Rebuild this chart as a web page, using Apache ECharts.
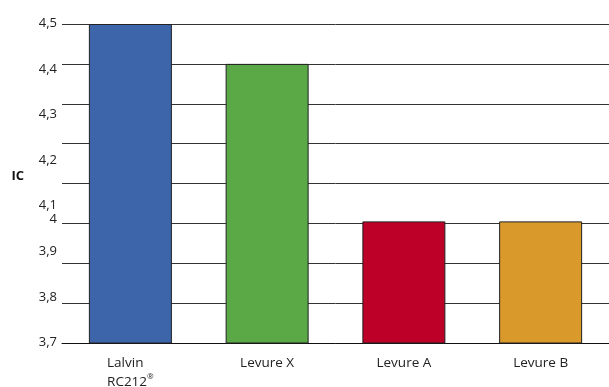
<!DOCTYPE html>
<html><head><meta charset="utf-8">
<script src="https://cdn.jsdelivr.net/npm/echarts@6/dist/echarts.min.js"></script>
<style>html,body{margin:0;padding:0;background:#fff}#c{width:609px;height:387px}</style>
</head><body><div id="c"></div>
<script>
const categories = ['Lalvin\nRC212®', 'Levure X', 'Levure A', 'Levure B'];
const values = [4.5, 4.4, 4.005, 4.005];
const colors = ['#3d66aa', '#5aa846', '#bd0028', '#d99a2b'];
const tickLabels = ['3,7', '3,8', '3,9', '4,1', '4,2', '4,3', '4,4', '4,5'];
const yMin = 3.7, yMax = 4.5, yStep = 0.1;

const chart = echarts.init(document.getElementById('c'));
const font = 'Open Sans';
chart.setOption({
  animation: false,
  grid: {left: 62, right: 0, top: 24, bottom: 44, outerBoundsMode: 'none', containLabel: false},
  xAxis: {
    type: 'category', data: categories,
    axisLine: {lineStyle: {color: '#111', width: 1}},
    axisTick: {show: false},
    axisLabel: {interval: 0, hideOverlap: false, color: '#222', fontFamily: font, fontSize: 13.5, margin: 11, lineHeight: 19,
      formatter: function (v) {
        if (v.indexOf('\n') < 0) return v;
        return v.split('\n').map(s => '{l|' + s.replace('®', '') + '}' + (s.indexOf('®') >= 0 ? '{sup|®}' : '')).join('\n');
      },
      rich: {
        l: {align: 'left', fontFamily: font, fontSize: 13.5, color: '#222', lineHeight: 19},
        sup: {align: 'left', fontFamily: font, fontSize: 8, color: '#222', lineHeight: 19, verticalAlign: 'top', padding: [0, 0, 6, 0]}
      }
    }
  },
  yAxis: [{
    type: 'value', min: yMin, max: yMax, interval: yStep,
    name: 'IC', nameLocation: 'middle', nameRotate: 0, nameGap: 38,
    nameTextStyle: {fontFamily: font, fontWeight: 'bold', fontSize: 13, color: '#111', verticalAlign: 'bottom', lineHeight: 14},
    axisLine: {show: false}, axisTick: {show: false},
    splitLine: {show: true, lineStyle: {color: '#333', width: 1}},
    axisLabel: {color: '#222', fontFamily: font, fontSize: 13, margin: 5, verticalAlign: 'top',
      formatter: function (v) { return Math.abs(v - 4) < 1e-6 ? '4' : ''; }, padding: [-11, 0, 0, 0]}
  }, {
    type: 'value', position: 'left', min: 0, max: tickLabels.length - 1, interval: 1,
    axisLine: {show: false}, axisTick: {show: false}, splitLine: {show: false},
    axisLabel: {color: '#222', fontFamily: font, fontSize: 13, margin: 5, verticalAlign: 'bottom', padding: [0, 0, -6, 0],
      formatter: function (v) { return tickLabels[Math.round(v)] || ''; }}
  }],
  series: [{
    type: 'bar', data: values.map((v, i) => ({value: v, itemStyle: {color: colors[i]}})),
    barWidth: 83,
    itemStyle: {borderColor: '#222', borderWidth: 1}
  }]
});
</script></body></html>
